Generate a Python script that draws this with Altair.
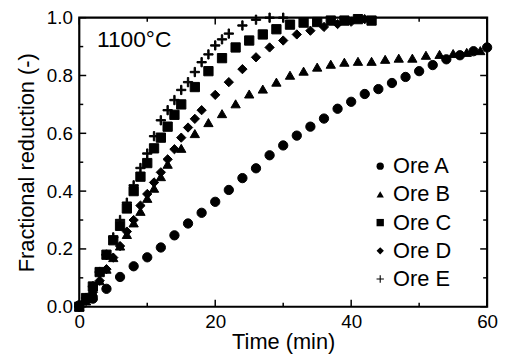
import altair as alt
import pandas as pd

# ---- data ----
t_A = [0, 2, 4, 6, 8, 10, 12, 14, 16, 18, 20, 22, 24, 26, 28, 30, 32, 34, 36, 38, 40,
       42, 44, 46, 48, 50, 52, 54, 56, 58, 60]
y_A = [0.005, 0.028, 0.062, 0.103, 0.140, 0.171, 0.205, 0.247, 0.288, 0.325, 0.363,
       0.404, 0.445, 0.479, 0.524, 0.558, 0.592, 0.623, 0.651, 0.685, 0.709,
       0.736, 0.753, 0.774, 0.795, 0.815, 0.836, 0.856, 0.870, 0.884, 0.897]

t_B = [0, 1, 2, 3, 4, 5, 6, 7, 8, 9, 10, 11, 12, 13, 15, 17, 19, 21, 23, 25, 27, 29,
       31, 33, 35, 37, 39, 41, 43, 45, 47, 49, 51, 53, 55, 57, 59]
y_B = [0.0, 0.02, 0.05, 0.09, 0.13, 0.17, 0.21, 0.25, 0.29, 0.33, 0.375, 0.41, 0.45,
       0.493, 0.548, 0.599, 0.637, 0.668, 0.702, 0.736, 0.753, 0.777, 0.801, 0.815,
       0.829, 0.839, 0.846, 0.849, 0.849, 0.856, 0.860, 0.860, 0.870, 0.873, 0.876,
       0.880, 0.886]

t_C = [0, 1, 2, 3, 4, 5, 6, 7, 8, 9, 10, 11, 12, 13, 14, 15, 17, 19, 21, 23, 25, 27,
       29, 31, 33, 35, 37, 39, 41, 43]
y_C = [0.0, 0.03, 0.07, 0.12, 0.18, 0.23, 0.28, 0.34, 0.40, 0.45, 0.497, 0.548,
       0.585, 0.623, 0.664, 0.70, 0.76, 0.815, 0.86, 0.897, 0.921, 0.942, 0.96,
       0.976, 0.983, 0.985, 0.99, 0.99, 0.995, 0.99]

t_D = [0, 1, 2, 3, 4, 5, 6, 7, 8, 9, 10, 11, 12, 13, 14, 15, 16, 17, 18, 20, 22, 24,
       26, 28, 30, 32, 34, 36, 38, 40, 42]
y_D = [0.0, 0.02, 0.05, 0.09, 0.13, 0.17, 0.21, 0.26, 0.30, 0.35, 0.39, 0.43, 0.465,
       0.51, 0.545, 0.585, 0.62, 0.65, 0.68, 0.733, 0.777, 0.822, 0.863, 0.897,
       0.921, 0.942, 0.955, 0.968, 0.978, 0.986, 0.995]

t_E = [0, 1, 2, 3, 4, 5, 6, 7, 8, 9, 10, 11, 12, 13, 14, 15, 16, 17, 18, 19, 20, 21,
       22, 24, 26, 28, 30]
y_E = [0.0, 0.03, 0.07, 0.12, 0.18, 0.24, 0.30, 0.36, 0.42, 0.48, 0.53, 0.59, 0.645,
       0.68, 0.715, 0.75, 0.777, 0.812, 0.846, 0.873, 0.904, 0.925, 0.945, 0.973,
       0.993, 1.0, 1.0]

ores = ["Ore A", "Ore B", "Ore C", "Ore D", "Ore E"]
PLUS = "M-1,-0.15H-0.15V-1H0.15V-0.15H1V0.15H0.15V1H-0.15V0.15H-1Z"
shapes = ["circle", "triangle-up", "square", "diamond", PLUS]

x_major = [0, 20, 40, 60]
x_minor = [10, 30, 50]
y_major = [0.0, 0.2, 0.4, 0.6, 0.8, 1.0]
y_minor = [0.1, 0.3, 0.5, 0.7, 0.9]

label_text = ["1100°C"]
label_t = [2.6]
label_y = [0.90]

W, H = 412, 292
FONT = "Liberation Sans"

frames = []
for name, ts, ys in [("Ore A", t_A, y_A), ("Ore B", t_B, y_B), ("Ore C", t_C, y_C),
                     ("Ore D", t_D, y_D), ("Ore E", t_E, y_E)]:
    frames.append(pd.DataFrame({"t": ts, "y": ys, "ore": name}))
df = pd.concat(frames, ignore_index=True)

xs = alt.Scale(domain=[0, 60], nice=False, zero=False)
ys_ = alt.Scale(domain=[0, 1], nice=False, zero=False)

points = alt.Chart(df).mark_point(
    filled=True, color="black", stroke="black", strokeWidth=1, size=88, opacity=1
).encode(
    x=alt.X("t:Q", scale=xs, axis=alt.Axis(
        values=x_major, ticks=False, domain=False, grid=False, labelFontSize=19,
        labelPadding=6, labelColor="black", title="Time (min)", titleFontSize=22,
        titleFontWeight="normal", titleColor="black", titlePadding=0,
        labelFlush=False)),
    y=alt.Y("y:Q", scale=ys_, axis=alt.Axis(
        values=y_major, format=".1f", ticks=False, domain=False, grid=False,
        labelFontSize=19, labelPadding=7, labelColor="black",
        title="Fractional reduction  (-)", titleFontSize=22, titleFontWeight="normal",
        titleColor="black", titlePadding=8, labelFlush=False)),
    shape=alt.Shape("ore:N", scale=alt.Scale(domain=ores, range=shapes),
                    legend=alt.Legend(orient="none", legendX=293, legendY=139,
                                      title=None, labelFontSize=22, labelColor="black",
                                      symbolSize=55, symbolFillColor="black",
                                      symbolStrokeColor="black", symbolStrokeWidth=1,
                                      symbolOpacity=1, rowPadding=6.5, labelOffset=2,
                                      padding=0)),
)

txt = alt.Chart(pd.DataFrame({"t": label_t, "y": label_y, "s": label_text})).mark_text(
    align="left", baseline="alphabetic", fontSize=23, color="black"
).encode(x=alt.X("t:Q", scale=xs), y=alt.Y("y:Q", scale=ys_), text="s:N")

def yticks(vals, L):
    d = pd.DataFrame({"v": vals})
    left = alt.Chart(d).mark_rule(color="black", strokeWidth=1.5).encode(
        y=alt.Y("v:Q", scale=ys_), x=alt.value(0), x2=alt.value(L))
    right = alt.Chart(d).mark_rule(color="black", strokeWidth=1.5).encode(
        y=alt.Y("v:Q", scale=ys_), x=alt.value(W - L), x2=alt.value(W))
    return [left, right]

def xticks(vals, L):
    d = pd.DataFrame({"v": vals})
    bot = alt.Chart(d).mark_rule(color="black", strokeWidth=1.5).encode(
        x=alt.X("v:Q", scale=xs), y=alt.value(H), y2=alt.value(H - L))
    top = alt.Chart(d).mark_rule(color="black", strokeWidth=1.5).encode(
        x=alt.X("v:Q", scale=xs), y=alt.value(0), y2=alt.value(L))
    return [bot, top]

layers = yticks(y_major, 7) + yticks(y_minor, 4) + xticks(x_major, 7) + xticks(x_minor, 4)

chart = alt.layer(*layers, txt, points).properties(
    width=W, height=H,
    autosize=alt.AutoSizeParams(type="none"),
    padding={"left": 72, "top": 8, "right": 12, "bottom": 50},
).configure(font=FONT).configure_view(stroke="black", strokeWidth=2.2)

chart.save("out.html", embed_options={"renderer": "svg", "actions": False})
